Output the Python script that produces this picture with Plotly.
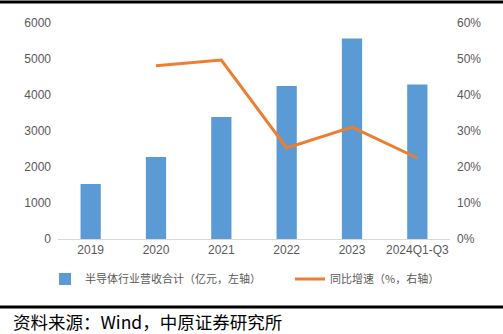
import plotly.graph_objects as go

categories = ["2019", "2020", "2021", "2022", "2023", "2024Q1-Q3"]
revenue = [1530, 2280, 3390, 4250, 5570, 4290]
growth_cats = ["2020", "2021", "2022", "2023", "2024Q1-Q3"]
growth = [0.481, 0.497, 0.253, 0.311, 0.225]

W, H = 503, 334
L, R, T, B = 58, 53, 23, 95
pw = W - L - R
ph = H - T - B

def py(pix):
    return (H - B - pix) / ph

def px(pix):
    return (pix - L) / pw

FONT = "Liberation Sans, Noto Sans CJK SC, sans-serif"
GRAY = "#595959"

fig = go.Figure()
fig.add_trace(go.Bar(
    x=categories, y=revenue, name="半导体行业营收合计（亿元，左轴）",
    marker=dict(color="#5B9BD5", line=dict(width=0)), width=0.31, legend="legend",
))
fig.add_trace(go.Scatter(
    x=growth_cats, y=growth, name="同比增速（%，右轴）", yaxis="y2",
    mode="lines", line=dict(color="#ED7D31", width=3), legend="legend2",
))

legend_common = dict(orientation="h", yanchor="middle", xanchor="left",
                     font=dict(size=11, color=GRAY, family="Noto Sans CJK SC"),
                     bgcolor="rgba(0,0,0,0)", itemwidth=30)

fig.update_layout(
    width=W, height=H,
    margin=dict(l=L, r=R, t=T, b=B),
    paper_bgcolor="white", plot_bgcolor="white",
    font=dict(family=FONT, color=GRAY, size=12),
    xaxis=dict(showline=True, linecolor="#D9D9D9", linewidth=1, ticks="",
               tickfont=dict(size=12, color=GRAY), showgrid=False),
    yaxis=dict(range=[0, 6000], dtick=1000, showgrid=False, zeroline=False,
               tickfont=dict(size=12, color=GRAY), ticklabelstandoff=6),
    yaxis2=dict(range=[0, 0.6], dtick=0.1, tickformat=".0%", overlaying="y",
                side="right", showgrid=False, zeroline=False,
                tickfont=dict(size=12, color=GRAY), ticklabelstandoff=6),
    showlegend=True,
    legend=dict(x=px(45), y=py(279), **legend_common),
    legend2=dict(x=px(290), y=py(279), **legend_common),
    shapes=[
        dict(type="line", xref="paper", yref="paper", x0=px(0), x1=px(W),
             y0=py(2), y1=py(2), line=dict(color="black", width=3)),
        dict(type="line", xref="paper", yref="paper", x0=px(0), x1=px(W),
             y0=py(307), y1=py(307), line=dict(color="black", width=3)),
    ],
    annotations=[
        dict(text="资料来源：Wind，中原证券研究所", xref="paper", yref="paper",
             x=px(11), y=py(321), xanchor="left", yanchor="middle",
             showarrow=False, font=dict(size=17.5, color="black", family="Noto Sans CJK SC")),
    ],
)

fig.write_html("out.html")
